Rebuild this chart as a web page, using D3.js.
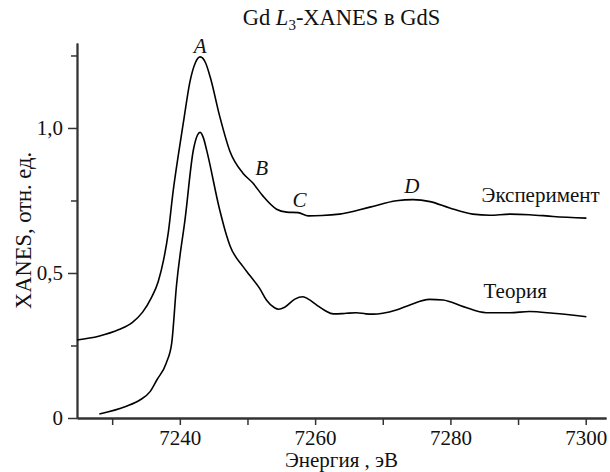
<!DOCTYPE html>
<html>
<head>
<meta charset="utf-8">
<script src="https://cdn.jsdelivr.net/npm/d3@7"></script>
<style>
  html, body { margin: 0; padding: 0; background: #fff; }
  svg text { font-family: "Liberation Serif", "Times New Roman", serif; fill: #111; }
</style>
</head>
<body>
<svg id="chart" width="610" height="472"></svg>
<script>
// ---- data ----
const expEnergy = [7224.8, 7228.0, 7231.0, 7233.0, 7234.5, 7235.8, 7236.8, 7237.6, 7238.3, 7239.0, 7239.8, 7240.6, 7241.5, 7242.3, 7243.0, 7243.8, 7244.5, 7245.9, 7247.4, 7249.3, 7250.8, 7252.3, 7254.3, 7255.8, 7257.5, 7259.0, 7261.0, 7263.6, 7268.1, 7272.0, 7274.5, 7277.0, 7279.9, 7283.3, 7285.8, 7288.8, 7291.7, 7295.2, 7300.1];
const expValue  = [0.269, 0.282, 0.305, 0.330, 0.365, 0.415, 0.470, 0.545, 0.640, 0.780, 0.910, 1.030, 1.160, 1.225, 1.245, 1.225, 1.175, 1.040, 0.920, 0.845, 0.810, 0.765, 0.720, 0.710, 0.708, 0.697, 0.698, 0.703, 0.727, 0.749, 0.753, 0.746, 0.724, 0.703, 0.699, 0.703, 0.701, 0.695, 0.689];

const theoEnergy = [7228.1, 7232.0, 7234.1, 7235.6, 7236.6, 7238.0, 7238.8, 7239.5, 7240.8, 7242.0, 7242.6, 7243.0, 7243.5, 7244.0, 7245.9, 7246.9, 7247.4, 7249.35, 7250.3, 7251.8, 7252.8, 7254.0, 7254.6, 7255.5, 7257.0, 7258.2, 7259.0, 7260.2, 7261.5, 7262.7, 7264.0, 7264.6, 7266.1, 7267.5, 7268.6, 7270.0, 7272.0, 7274.0, 7276.9, 7278.9, 7281.9, 7285.3, 7288.8, 7291.7, 7295.2, 7300.1];
const theoValue  = [0.014, 0.040, 0.062, 0.091, 0.131, 0.190, 0.258, 0.455, 0.690, 0.924, 0.975, 0.985, 0.965, 0.920, 0.717, 0.630, 0.595, 0.522, 0.493, 0.447, 0.407, 0.380, 0.375, 0.382, 0.410, 0.418, 0.410, 0.390, 0.370, 0.359, 0.360, 0.361, 0.363, 0.359, 0.358, 0.361, 0.372, 0.390, 0.409, 0.407, 0.384, 0.363, 0.363, 0.367, 0.361, 0.349];

const xMajorTicks = [7240, 7260, 7280, 7300];
const xMajorLabels = ["7240", "7260", "7280", "7300"];
const xMinorTicks = [7230, 7250, 7270, 7290];
const yMajorTicks = [0, 0.5, 1.0];
const yMajorLabels = ["0", "0,5", "1,0"];
const yMinorTicks = [0.25, 0.75, 1.25];

const featureLabels = ["A", "B", "C", "D"];
const featureEnergy = [7243.0, 7252.1, 7257.7, 7274.3];
const featureValue  = [1.259, 0.838, 0.729, 0.776];

const seriesNames = ["Эксперимент", "Теория"];
const seriesLabelEnergy = [7284.6, 7284.9];
const seriesLabelValue  = [0.746, 0.413];

const titleParts = ["Gd ", "L", "3", "-XANES в GdS"];
const xTitle = "Энергия , эВ";
const yTitle = "XANES, отн. ед.";

// ---- layout ----
const svg = d3.select("#chart");
const x = d3.scaleLinear().domain([7224.8, 7303]).range([77, 606]);
const y = d3.scaleLinear().domain([0, 1.293]).range([418, 43]);
const axisColor = "#333";

// x axis
svg.append("g").attr("transform", `translate(0,${y(0)})`)
  .call(d3.axisBottom(x).tickValues(xMajorTicks).tickFormat((d, i) => xMajorLabels[i]).tickSize(7).tickSizeOuter(0).tickPadding(5));
svg.append("g").attr("transform", `translate(0,${y(0)})`)
  .call(d3.axisBottom(x).tickValues(xMinorTicks).tickFormat("").tickSize(7).tickSizeOuter(0));

// y axis
svg.append("g").attr("transform", `translate(${x.range()[0]},0)`)
  .call(d3.axisLeft(y).tickValues(yMajorTicks).tickFormat((d, i) => yMajorLabels[i]).tickSize(9).tickSizeOuter(0).tickPadding(5));
svg.append("g").attr("transform", `translate(${x.range()[0]},0)`)
  .call(d3.axisLeft(y).tickValues(yMinorTicks).tickFormat("").tickSize(6).tickSizeOuter(0));

svg.selectAll(".domain").attr("stroke", axisColor).attr("stroke-width", 1.8);
svg.selectAll(".tick line").attr("stroke", axisColor).attr("stroke-width", 1.5);
svg.selectAll(".tick text").attr("font-size", 21).attr("font-family", "Liberation Serif").attr("fill", "#111");

// curves
const line = d3.line().x(d => x(d[0])).y(d => y(d[1])).curve(d3.curveMonotoneX);
const expData = expEnergy.map((e, i) => [e, expValue[i]]);
const theoData = theoEnergy.map((e, i) => [e, theoValue[i]]);
[expData, theoData].forEach(data => {
  svg.append("path").datum(data).attr("d", line)
    .attr("fill", "none").attr("stroke", "#000").attr("stroke-width", 1.6);
});

// feature labels
featureLabels.forEach((t, i) => {
  svg.append("text").attr("x", x(featureEnergy[i])).attr("y", y(featureValue[i]))
    .attr("text-anchor", "middle").attr("font-style", "italic").attr("font-size", 21).text(t);
});

// series labels
seriesNames.forEach((t, i) => {
  svg.append("text").attr("x", x(seriesLabelEnergy[i])).attr("y", y(seriesLabelValue[i]))
    .attr("font-size", 21).text(t);
});

// title
const cx = (x.range()[0] + x.range()[1]) / 2;
const title = svg.append("text").attr("x", cx).attr("y", 25).attr("text-anchor", "middle").attr("font-size", 22.5);
title.append("tspan").text(titleParts[0]);
title.append("tspan").attr("font-style", "italic").text(titleParts[1]);
title.append("tspan").attr("font-size", 15).attr("dy", 5).text(titleParts[2]);
title.append("tspan").attr("dy", -5).text(titleParts[3]);

// axis titles
svg.append("text").attr("x", cx).attr("y", 467).attr("text-anchor", "middle").attr("font-size", 21).text(xTitle);
svg.append("text").attr("transform", `translate(31,${(y.range()[0] + y.range()[1]) / 2}) rotate(-90)`)
  .attr("text-anchor", "middle").attr("font-size", 22.5).text(yTitle);
</script>
</body>
</html>
